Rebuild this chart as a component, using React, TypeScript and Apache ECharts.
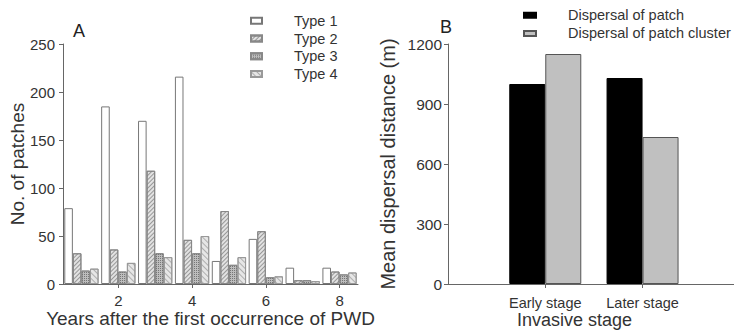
import React, { useEffect, useRef } from 'react';
import * as echarts from 'echarts';

// Panel A data
const years = ['1', '2', '3', '4', '5', '6', '7', '8'];
const type1 = [79, 185, 170, 216, 24, 47, 17, 17];
const type2 = [32, 36, 118, 46, 76, 55, 4, 13];
const type3 = [14, 13, 32, 32, 20, 7, 4, 10];
const type4 = [16, 22, 28, 50, 28, 8, 3, 12];
const seriesNamesA = ['Type 1', 'Type 2', 'Type 3', 'Type 4'];

// Panel B data
const stages = ['Early stage', 'Later stage'];
const stagePositions = [1, 2];
const patchDispersal = [1000, 1030];
const clusterDispersal = [1150, 735];
const seriesNamesB = ['Dispersal of patch', 'Dispersal of patch cluster'];

const FONT = '"Liberation Sans", Arial, sans-serif';
const AXIS_COLOR = '#666';
const TEXT_COLOR = '#333';

export default function App() {
  const ref = useRef<HTMLDivElement>(null);
  useEffect(() => {
    document.body.style.margin = '0';
    const chart = echarts.init(ref.current!, null, { renderer: 'svg' });
    const axisLineStyle = { lineStyle: { color: AXIS_COLOR, width: 1 } };
    const tickStyle = { show: true, inside: false, length: 4, lineStyle: { color: AXIS_COLOR } };
    const labelStyle = { color: TEXT_COLOR, fontSize: 15, fontFamily: FONT };
    const nameStyle = { color: TEXT_COLOR, fontSize: 19, fontFamily: FONT };
    const everyOther = (i: number) => i % 2 === 1;

    const barA = (name: string, data: number[], itemStyle: any) => ({
      name,
      type: 'bar',
      xAxisIndex: 0,
      yAxisIndex: 0,
      data,
      barGap: '0%',
      barCategoryGap: '7%',
      itemStyle,
    });

    chart.setOption({
      animation: false,
      backgroundColor: '#fff',
      title: [
        { text: 'A', left: 73, top: 22, padding: 0, textStyle: { fontSize: 18, fontWeight: 'normal', color: '#222', fontFamily: FONT } },
        { text: 'B', left: 440, top: 18, padding: 0, textStyle: { fontSize: 18, fontWeight: 'normal', color: '#222', fontFamily: FONT } },
      ],
      legend: [
        {
          data: seriesNamesA,
          orient: 'vertical',
          left: 250,
          top: 12,
          padding: 0,
          itemGap: 0,
          itemWidth: 11,
          itemHeight: 6,
          icon: 'rect',
          textStyle: { color: TEXT_COLOR, fontSize: 14.5, fontFamily: FONT, lineHeight: 17.7, padding: [0, 0, 0, 27] },
        },
        {
          data: seriesNamesB,
          orient: 'vertical',
          left: 523,
          top: 6,
          padding: 0,
          itemGap: 0,
          itemWidth: 12,
          itemHeight: 5,
          icon: 'rect',
          textStyle: { color: TEXT_COLOR, fontSize: 14.5, fontFamily: FONT, lineHeight: 18.3, padding: [0, 0, 0, 27] },
        },
      ],
      grid: [
        { left: 63, top: 44, width: 295, height: 240, containLabel: false, outerBoundsMode: 'none' },
        { left: 448, top: 44, width: 286, height: 240, containLabel: false, outerBoundsMode: 'none' },
      ],
      xAxis: [
        {
          type: 'category',
          gridIndex: 0,
          data: years,
          boundaryGap: true,
          axisLine: axisLineStyle,
          axisTick: { ...tickStyle, alignWithLabel: true, interval: everyOther },
          axisLabel: { ...labelStyle, interval: everyOther, margin: 9, lineHeight: 15 },
          name: 'Years after the first occurrence of PWD',
          nameLocation: 'middle',
          nameGap: 25,
          nameMoveOverlap: false,
          nameTextStyle: { ...nameStyle, lineHeight: 19 },
        },
        {
          type: 'value',
          gridIndex: 1,
          min: 0,
          max: 2.94,
          interval: 1,
          splitLine: { show: false },
          axisLine: axisLineStyle,
          axisTick: { ...tickStyle, customValues: stagePositions },
          axisLabel: {
            ...labelStyle,
            fontSize: 14.5,
            margin: 11,
            lineHeight: 15,
            customValues: stagePositions,
            formatter: (v: number) => {
              const i = stagePositions.indexOf(v);
              return i >= 0 ? stages[i] : '';
            },
          },
          name: 'Invasive stage',
          nameLocation: 'middle',
          nameGap: 27,
          nameMoveOverlap: false,
          nameTextStyle: { ...nameStyle, fontSize: 18, lineHeight: 18, padding: [0, 33, 0, 0] },
        },
      ],
      yAxis: [
        {
          type: 'value',
          gridIndex: 0,
          min: 0,
          max: 250,
          interval: 50,
          splitLine: { show: false },
          axisLine: { show: true, ...axisLineStyle },
          axisTick: tickStyle,
          axisLabel: { ...labelStyle, margin: 8 },
          name: 'No. of patches',
          nameLocation: 'middle',
          nameGap: 36,
          nameMoveOverlap: false,
          nameTextStyle: nameStyle,
        },
        {
          type: 'value',
          gridIndex: 1,
          min: 0,
          max: 1200,
          interval: 300,
          splitLine: { show: false },
          axisLine: { show: true, ...axisLineStyle },
          axisTick: tickStyle,
          axisLabel: { ...labelStyle, fontSize: 15.5, margin: 6, formatter: (v: number) => String(v) },
          name: 'Mean dispersal distance (m)',
          nameLocation: 'middle',
          nameGap: 50,
          nameMoveOverlap: false,
          nameTextStyle: { ...nameStyle, fontSize: 20 },
        },
      ],
      series: [
        barA(seriesNamesA[0], type1, { color: '#ffffff', borderColor: '#777', borderWidth: 1 }),
        barA(seriesNamesA[1], type2, {
          color: '#e2e2e2',
          borderColor: '#888',
          borderWidth: 1,
          decal: { symbol: 'rect', symbolSize: 1, color: 'rgba(90,90,90,0.55)', dashArrayX: [1, 0], dashArrayY: [1, 2], rotation: -Math.PI / 4 },
        }),
        barA(seriesNamesA[2], type3, {
          color: '#bdbdbd',
          borderColor: '#888',
          borderWidth: 1,
          decal: { symbol: 'rect', symbolSize: 1, color: 'rgba(70,70,70,0.6)', dashArrayX: [1, 1], dashArrayY: [1, 1], rotation: 0 },
        }),
        barA(seriesNamesA[3], type4, {
          color: '#e6e6e6',
          borderColor: '#999',
          borderWidth: 1,
          decal: { symbol: 'rect', symbolSize: 1, color: 'rgba(120,120,120,0.5)', dashArrayX: [1, 0], dashArrayY: [1, 3], rotation: Math.PI / 4 },
        }),
        {
          name: seriesNamesB[0],
          type: 'bar',
          xAxisIndex: 1,
          yAxisIndex: 1,
          data: stagePositions.map((p, i) => [p, patchDispersal[i]]),
          barWidth: 36,
          barGap: '0%',
          itemStyle: { color: '#000', borderColor: '#000', borderWidth: 1 },
        },
        {
          name: seriesNamesB[1],
          type: 'bar',
          xAxisIndex: 1,
          yAxisIndex: 1,
          data: stagePositions.map((p, i) => [p, clusterDispersal[i]]),
          barWidth: 36,
          barGap: '0%',
          itemStyle: { color: '#c0c0c0', borderColor: '#555', borderWidth: 1 },
        },
      ],
    });
    return () => chart.dispose();
  }, []);
  return <div ref={ref} style={{ position: 'absolute', left: 0, top: 0, width: 734, height: 331 }} />;
}
